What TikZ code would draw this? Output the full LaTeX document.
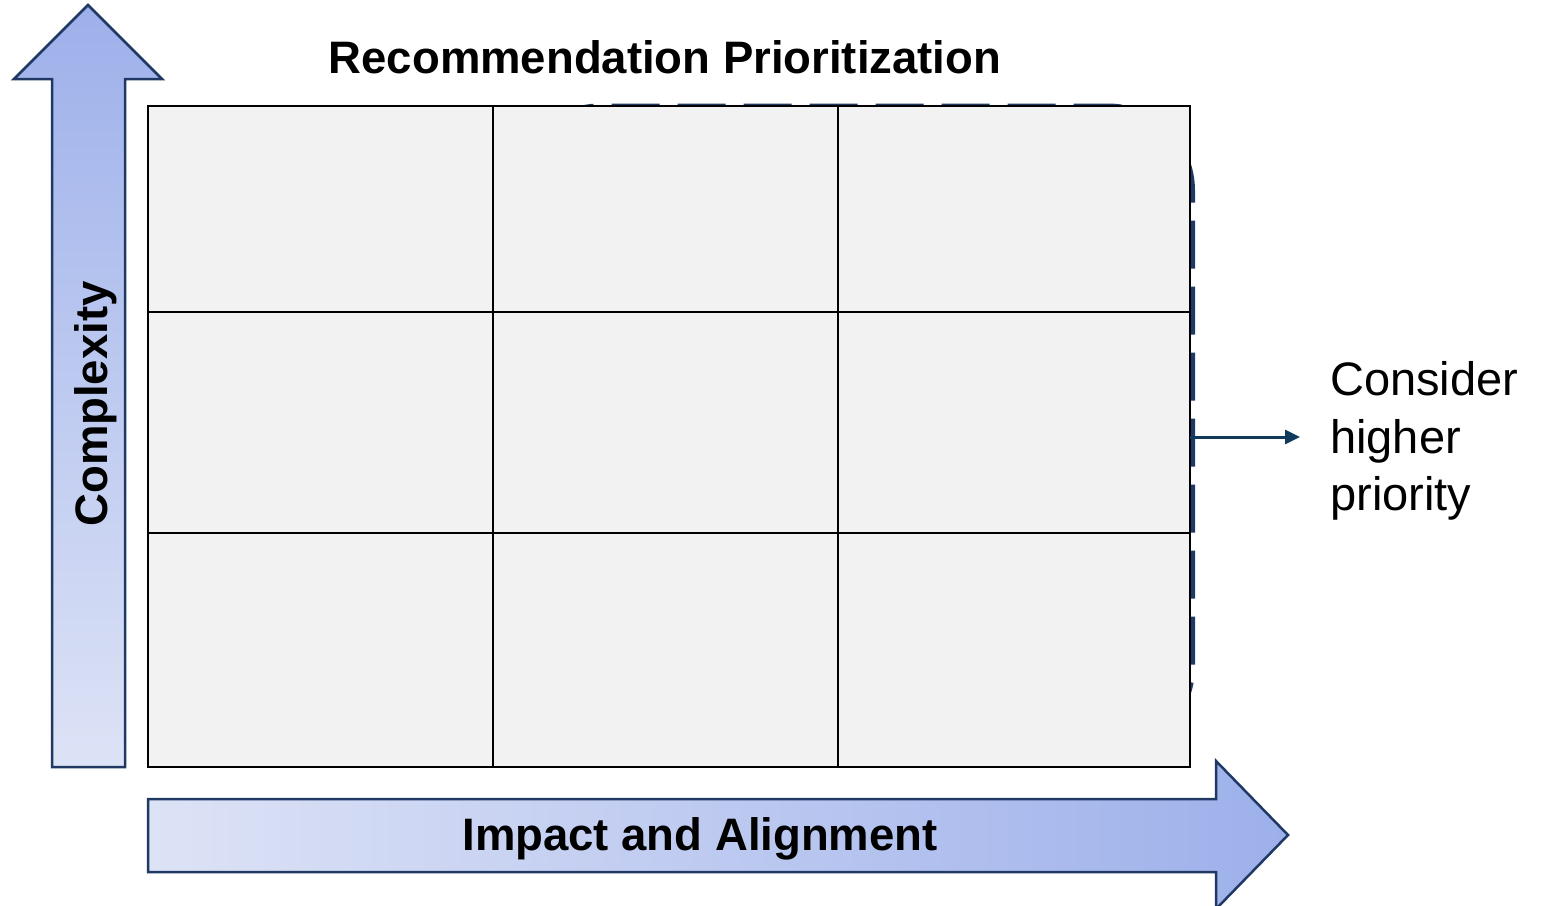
\documentclass[tikz,border=0pt]{standalone}
\usepackage{fontspec}
\setmainfont{Liberation Sans}
\usetikzlibrary{arrows.meta}
\definecolor{navy}{HTML}{1F3864}
\definecolor{arrowdark}{HTML}{9DB0EA}
\definecolor{arrowlight}{HTML}{DDE3F6}
\definecolor{cellgray}{HTML}{F2F2F2}
\definecolor{pointer}{HTML}{103A5C}
\tikzset{
  axisarrow/.style={draw=navy,line width=2.5pt,line join=miter},
  cellbox/.style={draw=black,fill=cellgray,line width=2pt},
  dashzone/.style={draw=navy,line width=4pt,dash pattern=on 48pt off 18pt,rounded corners=85pt},
  biglabel/.style={font=\fontsize{45.5}{55}\selectfont\bfseries,inner sep=0pt},
  notelabel/.style={font=\fontsize{47}{57.5}\selectfont,align=left,inner sep=0pt}
}
\begin{document}
\begin{tikzpicture}[x=1pt,y=-1pt]
\useasboundingbox (0,0) rectangle (1547,905);
% axes
\draw[axisarrow,top color=arrowdark,bottom color=arrowlight] (52,767) -- (52,79) -- (14,79) -- (88,5) -- (162,79) -- (125,79) -- (125,767) -- cycle;
\draw[axisarrow,left color=arrowlight,right color=arrowdark] (148,799) -- (1216,799) -- (1216,761) -- (1288,835) -- (1216,909) -- (1216,872) -- (148,872) -- cycle;
\node[biglabel,rotate=90,anchor=base] (complexlab) at (107,404) {Complexity};
\node[biglabel,anchor=base] (impactlab) at (700,850) {Impact and Alignment};
\node[biglabel,anchor=base] (title) at (665,73) {Recommendation Prioritization};
% priority zone behind the grid
\draw[dashzone] (515,105.5) rectangle (1193,752);
% grid
\foreach \xa/\xb in {148/493,493/838,838/1190}
\foreach \ya/\yb in {106/312,312/533,533/767}
\draw[cellbox] (\xa,\ya) rectangle (\xb,\yb);
\coordinate (gridE) at (1190,437);
\node[notelabel,anchor=west] (note) at (1330,441) {Consider\\higher\\priority};
\draw[pointer,line width=3pt,-{Triangle[length=15pt,width=14pt]},shorten >=30pt] (gridE) -- (gridE -| note.west);
\end{tikzpicture}
\end{document}
